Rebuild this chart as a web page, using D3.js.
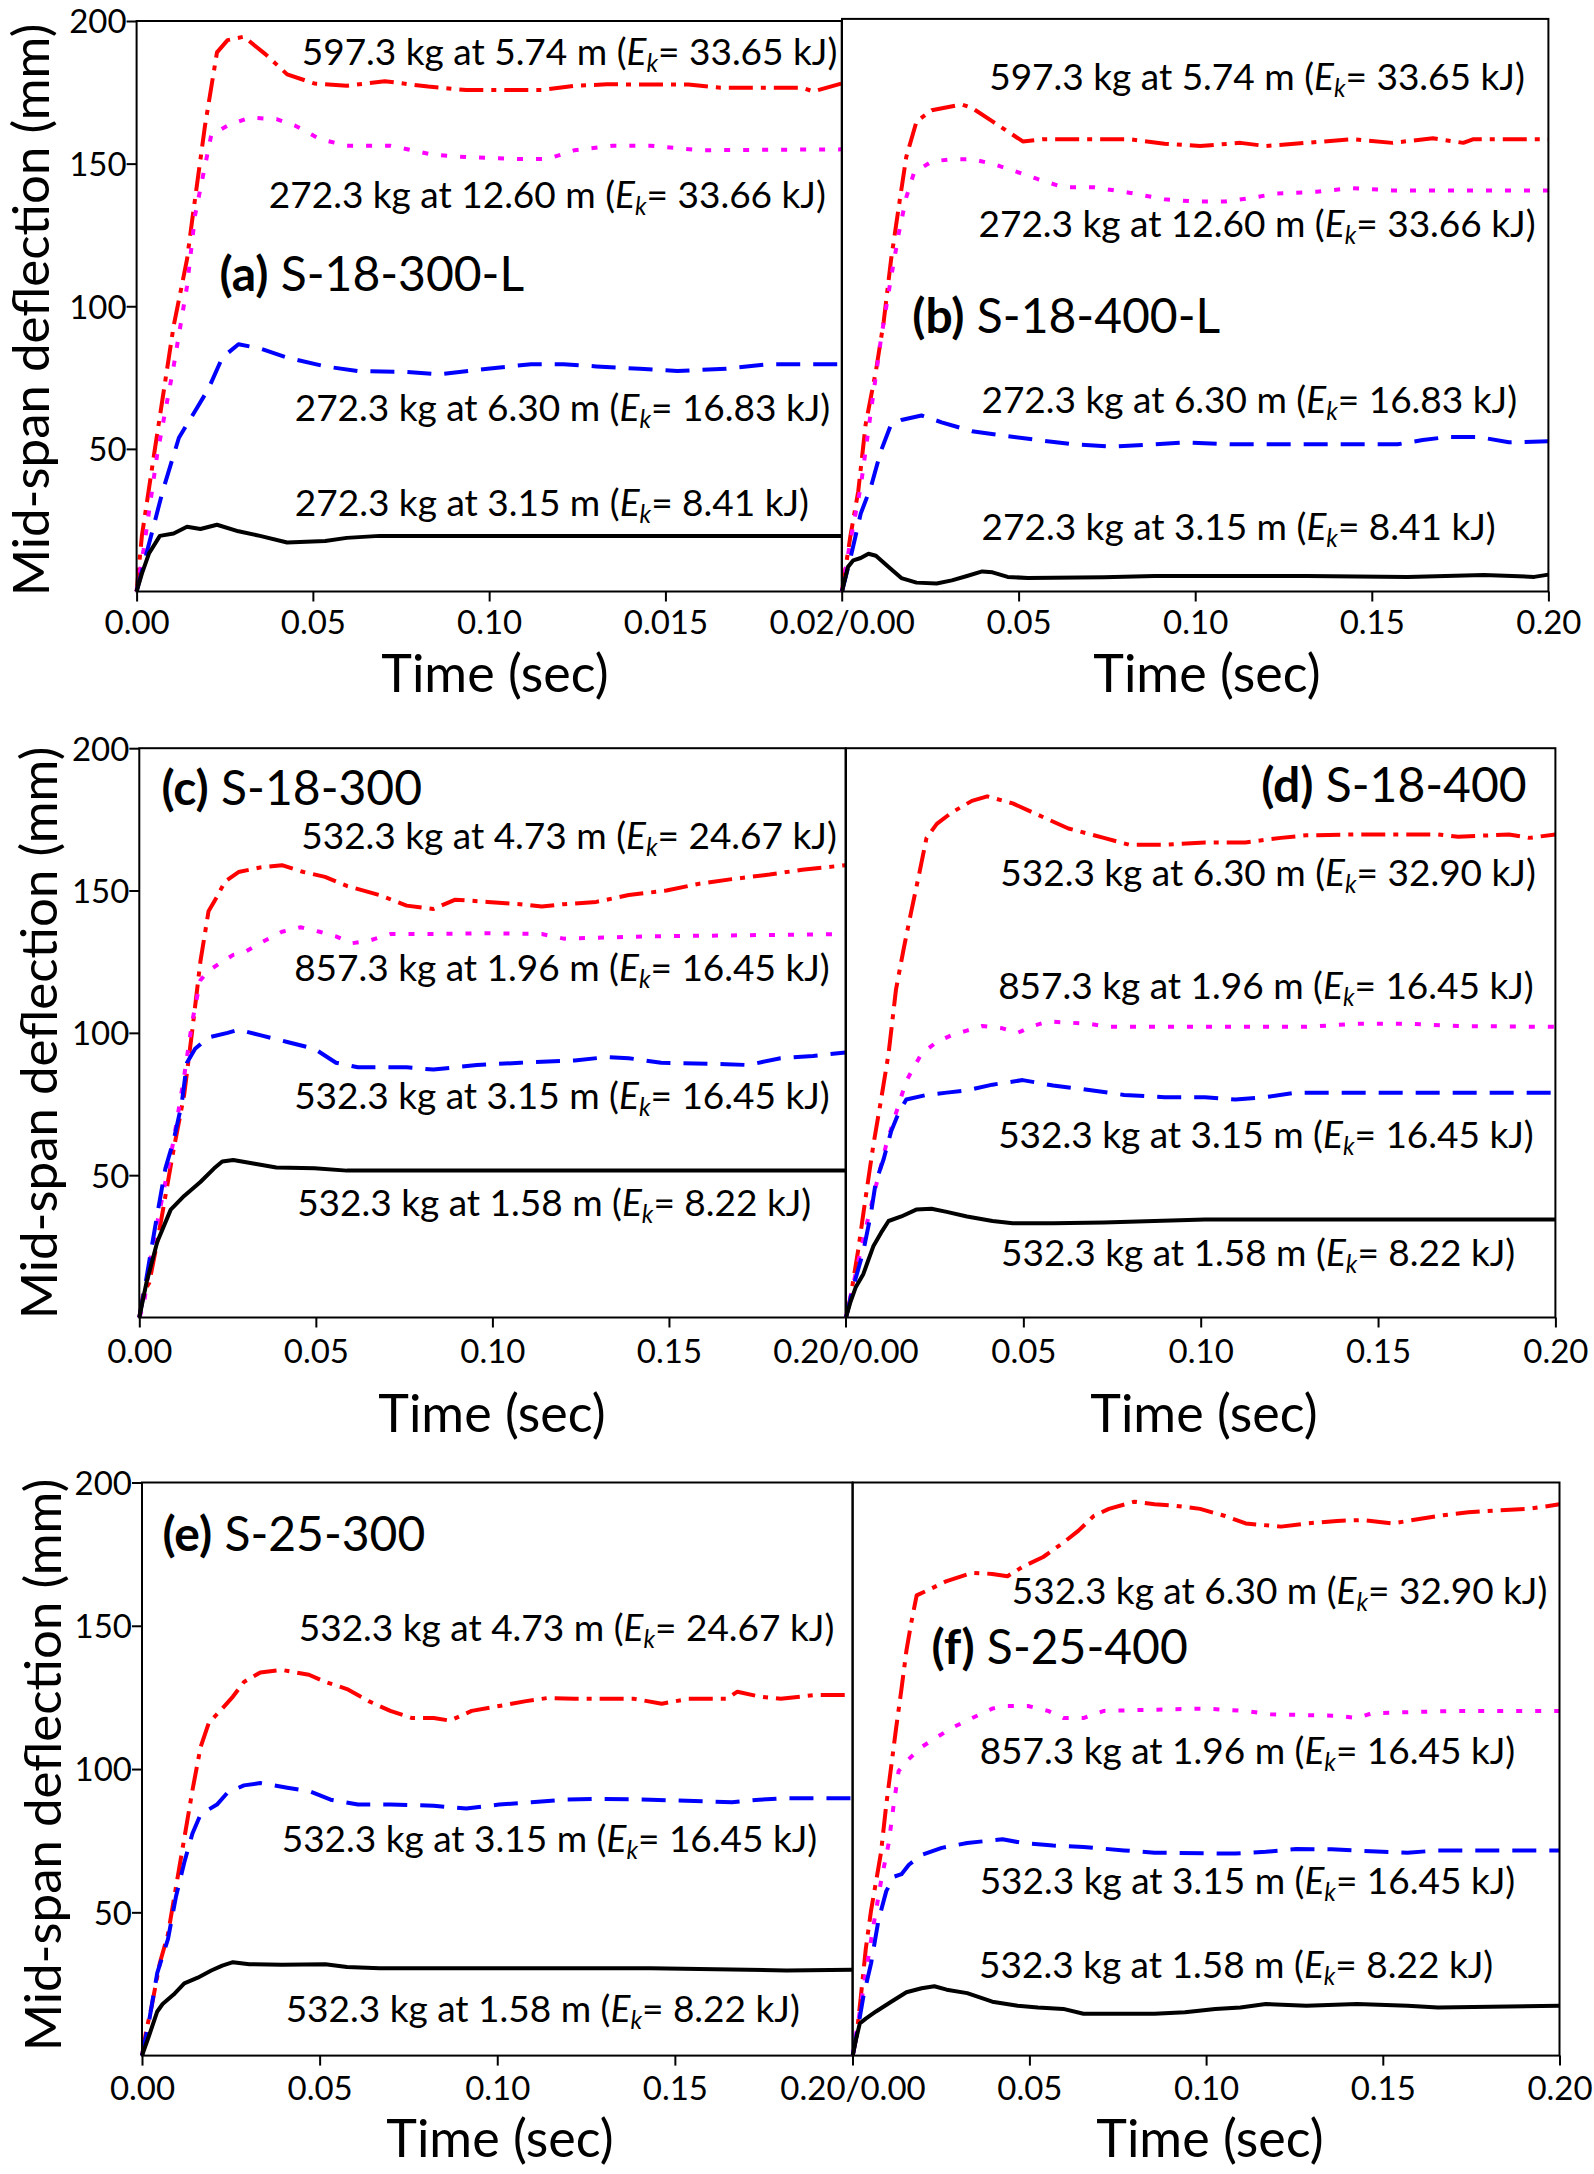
<!DOCTYPE html>
<html><head><meta charset="utf-8">
<script src="https://cdn.jsdelivr.net/npm/d3@7"></script>
<style>body{margin:0;background:#fff} svg{display:block} text{font-family:Lato,"Open Sans",sans-serif;fill:#000}</style>
</head><body><svg id="chart" width="1594" height="2174"></svg>
<script>
// ---------------- data ----------------
const yTickValues = [50, 100, 150, 200];
const xTickValuesLeft = [0, 0.05, 0.10, 0.15, 0.20];
const xTickValuesRight = [0.05, 0.10, 0.15, 0.20];
const xTickLabelsA = ["0.00", "0.05", "0.10", "0.015", "0.02/0.00"];
const xTickLabelsLeft = ["0.00", "0.05", "0.10", "0.15", "0.20/0.00"];
const xTickLabelsRight = ["0.05", "0.10", "0.15", "0.20"];
const yTickLabels = ["50", "100", "150", "200"];

const panelIds = ["(a)", "(b)", "(c)", "(d)", "(e)", "(f)"];
const panelNames = ["S-18-300-L", "S-18-400-L", "S-18-300", "S-18-400", "S-25-300", "S-25-400"];

// [time (s), mid-span deflection (mm)]
const aRed = [[0,0],[0.0015,19.5],[0.0051,49.2],[0.0105,93],[0.0143,116.4],[0.0158,130.5],[0.0194,163.3],[0.0228,189],[0.0258,193.3],[0.0304,194.5],[0.0366,188.3],[0.0427,181.3],[0.0504,178.1],[0.0596,177.3],[0.0704,178.9],[0.0827,177],[0.0935,175.8],[0.115,175.8],[0.1242,177.3],[0.1334,177.8],[0.1565,177.7],[0.1657,176.6],[0.1888,176.6],[0.1919,175.3],[0.2,178.1]];
const aMagenta = [[0,0],[0.002,14.8],[0.0058,47.7],[0.0105,78.9],[0.0143,107],[0.0166,132],[0.0194,149.2],[0.0212,160.2],[0.0258,163.3],[0.032,166.1],[0.0397,165.6],[0.045,163.3],[0.052,158.6],[0.0596,156.3],[0.0719,156.3],[0.0842,153.1],[0.0935,152.3],[0.1088,151.6],[0.1165,151.6],[0.1242,154.7],[0.135,156.3],[0.1457,156.3],[0.1596,154.7],[0.2,155]];
const aBlue = [[0,0],[0.0028,13.3],[0.0074,35.2],[0.012,53.9],[0.0166,63.3],[0.0204,71.1],[0.0243,82],[0.0289,86.7],[0.035,85.2],[0.0427,82],[0.0535,78.9],[0.0627,77.3],[0.0766,77],[0.0858,76.1],[0.0996,78.1],[0.1119,79.7],[0.1211,79.7],[0.1304,78.9],[0.1427,78.1],[0.1534,77.3],[0.1673,78.1],[0.1796,79.7],[0.2,79.7]];
const aBlack = [[0,0],[0.0015,6.25],[0.0035,13.3],[0.0066,19.5],[0.0105,20.3],[0.0143,22.7],[0.0181,21.9],[0.0228,23.4],[0.0289,21.1],[0.035,19.5],[0.0427,17.2],[0.0535,17.7],[0.0596,18.8],[0.0689,19.5],[0.2,19.5]];

const bRed = [[0,0],[0.0024,19.5],[0.0046,35],[0.0067,58.4],[0.0096,77],[0.0118,94.2],[0.0139,116],[0.0161,134.6],[0.0182,151.8],[0.0211,164.2],[0.0254,168.1],[0.034,170.1],[0.0368,168.9],[0.0426,164.2],[0.0512,157.2],[0.0569,158],[0.0813,158],[0.0913,156.4],[0.1014,155.6],[0.1128,156.7],[0.12,155.6],[0.1315,156.7],[0.1444,158],[0.1558,156.7],[0.1673,158.3],[0.1759,156.7],[0.1788,158],[0.2,158]];
const bMagenta = [[0,0],[0.0024,17.9],[0.0053,36.6],[0.0082,63],[0.011,87.9],[0.0139,109.7],[0.0161,125.3],[0.0182,137.7],[0.0204,146.3],[0.0254,150.2],[0.0311,151],[0.0368,151],[0.0426,149.4],[0.0483,147.1],[0.0555,144],[0.0627,141.2],[0.0713,141.2],[0.0813,139.3],[0.0913,137],[0.0999,136.2],[0.1085,136.2],[0.1171,137.7],[0.1229,139],[0.1343,139.6],[0.1444,140.9],[0.1558,140.1],[0.2,140.1]];
const bBlue = [[0,0],[0.0024,11.7],[0.0053,27.2],[0.0082,36.6],[0.011,49],[0.0139,58.4],[0.0168,59.9],[0.0225,61.5],[0.0282,59.1],[0.0368,56],[0.0454,54.5],[0.0555,52.9],[0.0655,51.4],[0.077,50.6],[0.0885,51.4],[0.0971,52.1],[0.11,51.4],[0.1573,51.4],[0.1644,52.9],[0.1716,54],[0.1802,54],[0.1888,52.1],[0.2,52.5]];
const bBlack = [[0,0],[0.0017,8.6],[0.0032,10.9],[0.0053,11.7],[0.0075,13.2],[0.0096,12.5],[0.0132,8.6],[0.0168,4.7],[0.0211,3.1],[0.0268,2.8],[0.0311,3.9],[0.0354,5.4],[0.0397,7],[0.0426,6.7],[0.0469,5.1],[0.0526,4.7],[0.0741,5],[0.0885,5.4],[0.1315,5.4],[0.1601,5.1],[0.1817,5.8],[0.196,5.1],[0.2,5.9]];

const cRed = [[0,0],[0.0012,8.9],[0.0028,12.1],[0.0051,26.6],[0.0074,42.7],[0.0097,58.9],[0.0127,78.2],[0.015,100.8],[0.0173,125],[0.0196,142.7],[0.0219,147.6],[0.0243,153.2],[0.0281,156.5],[0.0342,158.1],[0.0404,158.9],[0.0465,156.5],[0.0526,154.8],[0.0588,151.6],[0.068,148.4],[0.0757,144.7],[0.0833,143.5],[0.0895,146.8],[0.0987,146],[0.1079,145.2],[0.114,144.4],[0.1202,145.2],[0.1294,146],[0.1386,148.4],[0.1493,150],[0.1586,152.4],[0.1678,154],[0.1785,155.6],[0.1877,157.3],[0.2,158.9]];
const cMagenta = [[0,0],[0.0012,4],[0.0035,23.4],[0.0066,42.7],[0.0097,62.1],[0.0127,84.7],[0.015,104],[0.0173,118.5],[0.0196,121.8],[0.0235,125],[0.0266,127.4],[0.0296,128.2],[0.0342,131.5],[0.0404,135.5],[0.0457,137.1],[0.0511,135.5],[0.0557,133.9],[0.0603,131.5],[0.0649,132.3],[0.0711,134.7],[0.0833,134.7],[0.0987,135],[0.114,134.7],[0.1202,133.1],[0.1294,133.4],[0.1447,133.9],[0.2,134.7]];
const cBlue = [[0,0],[0.002,13.7],[0.0051,36.3],[0.0074,52.4],[0.0097,62.1],[0.012,75],[0.0135,89.5],[0.0158,94.4],[0.0196,98.4],[0.025,100],[0.0281,101.1],[0.0342,99.2],[0.0419,96.8],[0.0496,94.4],[0.0557,89.5],[0.0619,87.9],[0.0757,87.9],[0.0833,87.1],[0.0956,88.7],[0.1079,89.5],[0.1233,90.3],[0.1325,91.5],[0.1386,91.1],[0.1478,89.5],[0.1662,89],[0.1724,88.7],[0.1816,91.1],[0.1908,91.9],[0.2,93.1]];
const cBlack = [[0,0],[0.002,12.1],[0.0051,26.6],[0.0089,37.9],[0.0127,42.7],[0.0173,47.6],[0.0212,52.4],[0.0235,54.8],[0.0266,55.3],[0.0327,54],[0.0388,52.7],[0.0496,52.4],[0.0588,51.6],[0.2,51.6]];

const dRed = [[0,0],[0.0013,7.3],[0.0034,23.4],[0.0056,42.7],[0.0077,60.5],[0.0099,76.6],[0.012,92.7],[0.0141,115.3],[0.0163,129.8],[0.0184,142.7],[0.0206,155.6],[0.0227,168.5],[0.0256,173.4],[0.0298,177.4],[0.0355,181.5],[0.0398,183.1],[0.047,180.6],[0.0541,176.6],[0.0627,171.8],[0.0727,168.5],[0.0798,166.1],[0.0898,166.1],[0.1012,166.9],[0.1126,166.9],[0.1226,168.5],[0.1298,169.4],[0.1441,169.7],[0.1669,169.7],[0.1726,168.9],[0.1869,169.7],[0.1926,168.5],[0.2,169.7]];
const dMagenta = [[0,0],[0.0027,15.3],[0.0056,31.5],[0.0084,46],[0.0113,60.5],[0.0141,71.8],[0.017,83.1],[0.0213,92.7],[0.0256,96.8],[0.0298,99.2],[0.0341,100.8],[0.0384,102.4],[0.0441,101.6],[0.0484,100],[0.0527,102.4],[0.057,104],[0.0684,103.2],[0.0741,102.1],[0.1298,102.1],[0.144,103.2],[0.1583,103.2],[0.1726,102.4],[0.2,102.1]];
const dBlue = [[0,0],[0.002,10.5],[0.0049,23.4],[0.007,36.3],[0.0084,47.6],[0.0106,55.6],[0.0127,65.3],[0.0148,71.8],[0.017,76.6],[0.0227,78.2],[0.0284,79],[0.0341,79.8],[0.0413,81.8],[0.0498,83.4],[0.0584,81.5],[0.067,80.2],[0.0784,78.2],[0.0898,77.4],[0.1012,77.4],[0.1098,76.6],[0.1183,77.4],[0.1269,79],[0.1383,79],[0.2,79]];
const dBlack = [[0,0],[0.0013,5.6],[0.0027,10.5],[0.0049,15.3],[0.0063,20.2],[0.0077,25],[0.0099,29.8],[0.012,33.9],[0.0156,35.5],[0.0198,37.9],[0.0241,38.2],[0.0284,37.1],[0.0341,35.5],[0.0413,33.9],[0.047,33.1],[0.0584,33.1],[0.0727,33.4],[0.0869,33.9],[0.1012,34.4],[0.2,34.4]];

const eRed = [[0,0],[0.0012,8.7],[0.0027,17.1],[0.005,32.2],[0.0073,42.3],[0.0096,59.1],[0.0119,75.8],[0.0142,92.6],[0.0165,107.7],[0.0188,116.1],[0.0226,121.1],[0.0256,125.3],[0.0287,130.4],[0.0333,133.7],[0.0394,134.6],[0.047,132.9],[0.0516,130.4],[0.0577,127.9],[0.0638,123.7],[0.0699,120.3],[0.076,117.8],[0.0821,117.8],[0.0867,116.9],[0.0928,120.3],[0.1005,122],[0.1081,123.7],[0.1142,124.8],[0.1218,124.5],[0.1386,124.5],[0.1463,122.8],[0.1539,124.5],[0.1646,124.5],[0.1676,127],[0.1737,125.3],[0.1798,124.5],[0.189,125.8],[0.2,125.8]];
const eBlue = [[0,0],[0.002,12.1],[0.0043,28.9],[0.0073,40.6],[0.0096,55.7],[0.0119,67.4],[0.0142,77.5],[0.0165,84.2],[0.0211,87.6],[0.0241,91.8],[0.0287,94.3],[0.0333,95.1],[0.0409,93.5],[0.047,92.3],[0.0531,89.3],[0.0608,87.6],[0.0699,87.6],[0.0821,87.2],[0.0913,86.2],[0.1005,87.6],[0.1096,88.4],[0.1188,89.3],[0.1279,89.6],[0.1432,89.3],[0.1661,88.4],[0.1737,89.3],[0.1814,89.8],[0.2,89.8]];
const eBlack = [[0,0],[0.002,7],[0.0043,15.4],[0.0058,18],[0.0089,21.3],[0.0119,25.2],[0.0157,27.2],[0.0195,29.7],[0.0226,31.4],[0.0256,32.6],[0.0302,31.9],[0.0394,31.7],[0.0516,31.9],[0.0577,30.9],[0.0669,30.5],[0.1432,30.5],[0.1814,29.7],[0.2,30]];

const fRed = [[0,0],[0.0011,7],[0.0023,20.5],[0.0037,37.2],[0.0052,50.7],[0.0066,60.7],[0.008,70.8],[0.0095,87.6],[0.0109,101],[0.0123,114.4],[0.0138,127.9],[0.0152,141.3],[0.0166,151.3],[0.0181,160.6],[0.0209,162.2],[0.0266,165.6],[0.0338,168.5],[0.0395,168.1],[0.0438,167.3],[0.0481,170.6],[0.0539,174],[0.0596,179],[0.0639,183.2],[0.0682,188.3],[0.0725,190.8],[0.0797,193.3],[0.0854,192.4],[0.0911,191.9],[0.0983,190.8],[0.1054,188.3],[0.1112,185.7],[0.1212,184.6],[0.1284,185.7],[0.137,186.6],[0.1441,186.9],[0.1527,185.7],[0.1585,186.9],[0.1671,188.6],[0.1742,189.6],[0.1828,190.3],[0.1914,190.8],[0.2,192.4]];
const fMagenta = [[0,0],[0.0016,12.1],[0.0037,28.9],[0.0059,45.6],[0.008,60.7],[0.0102,74.2],[0.0116,87.6],[0.013,99.3],[0.0152,102.7],[0.0195,107.7],[0.0238,111.1],[0.0281,114.4],[0.0338,117.8],[0.0395,121.1],[0.0438,122],[0.0496,122],[0.0553,120.3],[0.0596,117.8],[0.0653,117.8],[0.0711,120.3],[0.0997,121.1],[0.1112,120.3],[0.1183,119.1],[0.137,118.6],[0.1427,117.8],[0.147,119.5],[0.1713,120.3],[0.2,120.3]];
const fBlue = [[0,0],[0.0016,10.4],[0.003,20.5],[0.0052,32.2],[0.0073,47.3],[0.0095,57.4],[0.0116,62.4],[0.0138,63.3],[0.0159,66.6],[0.0195,70],[0.0252,72.5],[0.0324,74.2],[0.0424,75.5],[0.0481,74.2],[0.0567,73.3],[0.0653,72.8],[0.0768,71.6],[0.0854,70.8],[0.1083,70.5],[0.1169,71.1],[0.1255,72.1],[0.1355,72],[0.1499,71.1],[0.157,70.8],[0.1656,71.6],[0.2,71.6]];
const fBlack = [[0,0],[0.0009,5.4],[0.002,11.2],[0.0037,12.9],[0.0066,15.4],[0.0109,18.8],[0.0152,22.1],[0.0195,23.5],[0.0231,24.2],[0.0266,23],[0.0324,21.8],[0.0395,18.8],[0.0467,17.4],[0.0524,16.8],[0.0596,16.3],[0.0653,14.6],[0.0854,14.6],[0.094,15.1],[0.1026,16.3],[0.1097,16.8],[0.1169,18],[0.1284,17.4],[0.1427,18],[0.157,17.4],[0.1656,16.8],[0.2,17.4]];

// annotation texts: [prefix, Ek value]
const aNotes = [["597.3 kg at 5.74 m", "33.65"], ["272.3 kg at 12.60 m", "33.66"], ["272.3 kg at 6.30 m", "16.83"], ["272.3 kg at 3.15 m", "8.41"]];
const bNotes = [["597.3 kg at 5.74 m", "33.65"], ["272.3 kg at 12.60 m", "33.66"], ["272.3 kg at 6.30 m", "16.83"], ["272.3 kg at 3.15 m", "8.41"]];
const cNotes = [["532.3 kg at 4.73 m", "24.67"], ["857.3 kg at 1.96 m", "16.45"], ["532.3 kg at 3.15 m", "16.45"], ["532.3 kg at 1.58 m", "8.22"]];
const dNotes = [["532.3 kg at 6.30 m", "32.90"], ["857.3 kg at 1.96 m", "16.45"], ["532.3 kg at 3.15 m", "16.45"], ["532.3 kg at 1.58 m", "8.22"]];
const eNotes = [["532.3 kg at 4.73 m", "24.67"], ["532.3 kg at 3.15 m", "16.45"], ["532.3 kg at 1.58 m", "8.22"]];
const fNotes = [["532.3 kg at 6.30 m", "32.90"], ["857.3 kg at 1.96 m", "16.45"], ["532.3 kg at 3.15 m", "16.45"], ["532.3 kg at 1.58 m", "8.22"]];

// ---------------- layout (positions / styles) ----------------
const styles = {
  red:     {stroke: "#ff0000", dash: "24,8,5,8", width: 4},
  magenta: {stroke: "#ff00ff", dash: "6,13", width: 4},
  blue:    {stroke: "#0000ff", dash: "24,13", width: 4},
  black:   {stroke: "#000000", dash: null, width: 4}
};
const FS = {tick: 33, note: 37, xTitle: 52, yTitle: 51, panel: 48};

// note anchors in data units [t (center), mm (baseline)]
const panels = [
  {box: [136.6, 21, 841.7, 591.5], left: true, ticks: xTickValuesLeft, tickLabels: xTickLabelsA, tickY: 42,
   series: [["red", aRed], ["magenta", aMagenta], ["blue", aBlue], ["black", aBlack]],
   notes: aNotes, notePos: [[0.1228,184.4],[0.1165,134.4],[0.1208,59.7],[0.1178,26.6]],
   labelPos: [0.0235,105.5], labelAnchor: "start", xTitle: [495, 692], yTitle: [48.8, 310]},
  {box: [842, 18.9, 1548.4, 591.5], left: false, ticks: xTickValuesRight, tickLabels: xTickLabelsRight, tickY: 42,
   series: [["red", bRed], ["magenta", bMagenta], ["blue", bBlue], ["black", bBlack]],
   notes: bNotes, notePos: [[0.1175,175.1],[0.1175,123.7],[0.1153,62.2],[0.1123,17.9]],
   labelPos: [0.0199,90.3], labelAnchor: "start", xTitle: [1207, 692]},
  {box: [139.3, 748.2, 845.5, 1317.5], left: true, ticks: xTickValuesLeft, tickLabels: xTickLabelsLeft, tickY: 45,
   series: [["red", cRed], ["magenta", cMagenta], ["blue", cBlue], ["black", cBlack]],
   notes: cNotes, notePos: [[0.1217,164.5],[0.1197,118.2],[0.1197,73.4],[0.1175,35.5]],
   labelPos: [0.0063,180.2], labelAnchor: "start", xTitle: [492, 1432], yTitle: [57, 1033]},
  {box: [846, 748.2, 1555.4, 1317.5], left: false, ticks: xTickValuesRight, tickLabels: xTickLabelsRight, tickY: 45,
   series: [["red", dRed], ["magenta", dMagenta], ["blue", dBlue], ["black", dBlack]],
   notes: dNotes, notePos: [[0.119,151.6],[0.1184,111.8],[0.1184,59.7],[0.1162,18.2]],
   labelPos: [0.1919,181.1], labelAnchor: "end", xTitle: [1204, 1432]},
  {box: [142, 1482.5, 852.5, 2055.6], left: true, ticks: xTickValuesLeft, tickLabels: xTickLabelsLeft, tickY: 44,
   series: [["red", eRed], ["blue", eBlue], ["black", eBlack]],
   notes: eNotes, notePos: [[0.1195,144.6],[0.1147,71.2],[0.1128,11.8]],
   labelPos: [0.0058,176.2], labelAnchor: "start", xTitle: [500, 2157], yTitle: [60.7, 1765]},
  {box: [852.7, 1482.5, 1559.5, 2055.6], left: false, ticks: xTickValuesRight, tickLabels: xTickLabelsRight, tickY: 44,
   series: [["red", fRed], ["magenta", fMagenta], ["blue", fBlue], ["black", fBlack]],
   notes: fNotes, notePos: [[0.1208,157.7],[0.1117,101.8],[0.1117,56.5],[0.1085,27.2]],
   labelPos: [0.0223,136.6], labelAnchor: "start", xTitle: [1210, 2157]}
];

const svg = d3.select("#chart");

panels.forEach((p, i) => {
  const [x0, y0, x1, y1] = p.box;
  const x = d3.scaleLinear().domain([0, 0.2]).range([x0, x1]);
  const y = d3.scaleLinear().domain([0, 200]).range([y1, y0]);
  const g = svg.append("g");

  // series
  const line = d3.line().x(d => x(d[0])).y(d => y(d[1]));
  p.series.forEach(([key, data]) => {
    const s = styles[key];
    g.append("path").datum(data).attr("d", line)
      .attr("fill", "none").attr("stroke", s.stroke).attr("stroke-width", s.width)
      .attr("stroke-dasharray", s.dash).attr("stroke-linejoin", "round");
  });

  // x axis
  const xa = g.append("g").attr("transform", `translate(0,${y1})`)
    .call(d3.axisBottom(x).tickValues(p.ticks).tickSize(10).tickSizeOuter(0)
      .tickFormat((d, k) => p.tickLabels[k]));
  xa.select(".domain").remove();
  xa.selectAll("line").attr("stroke", "#000").attr("stroke-width", 2);
  xa.selectAll("text").attr("y", p.tickY).attr("dy", 0).style("font-size", FS.tick + "px")
    .attr("fill", "#000");

  // y axis
  if (p.left) {
    const ya = g.append("g").attr("transform", `translate(${x0},0)`)
      .call(d3.axisLeft(y).tickValues(yTickValues).tickSize(10).tickSizeOuter(0)
        .tickFormat((d, k) => yTickLabels[k]));
    ya.select(".domain").remove();
    ya.selectAll("line").attr("stroke", "#000").attr("stroke-width", 2);
    ya.selectAll("text").attr("x", -10).attr("dy", "0.36em").style("font-size", FS.tick + "px")
      .attr("fill", "#000");
  }

  // frame
  g.append("rect").attr("x", x0).attr("y", y0).attr("width", x1 - x0).attr("height", y1 - y0)
    .attr("fill", "none").attr("stroke", "#000").attr("stroke-width", 2);

  // notes
  p.notes.forEach((n, k) => {
    const [t, v] = p.notePos[k];
    const tx = g.append("text").attr("x", x(t)).attr("y", y(v))
      .attr("text-anchor", "middle").style("font-size", FS.note + "px");
    tx.append("tspan").text(n[0] + " (");
    tx.append("tspan").attr("font-style", "italic").text("E");
    tx.append("tspan").attr("font-style", "italic").style("font-size", (FS.note * 0.66) + "px")
      .attr("dy", 7).text("k");
    tx.append("tspan").attr("dy", -7).text("= " + n[1] + " kJ)");
  });

  // panel label
  const lt = g.append("text").attr("x", x(p.labelPos[0])).attr("y", y(p.labelPos[1]))
    .attr("text-anchor", p.labelAnchor).style("font-size", FS.panel + "px");
  lt.append("tspan").attr("font-weight", "bold").text(panelIds[i]);
  lt.append("tspan").text(" " + panelNames[i]);

  // axis titles
  g.append("text").attr("x", p.xTitle[0]).attr("y", p.xTitle[1]).attr("text-anchor", "middle")
    .style("font-size", FS.xTitle + "px").text("Time (sec)");
  if (p.yTitle) {
    g.append("text").attr("transform", `translate(${p.yTitle[0]},${p.yTitle[1]}) rotate(-90)`)
      .attr("text-anchor", "middle").style("font-size", FS.yTitle + "px")
      .text("Mid-span deflection (mm)");
  }
});
</script></body></html>
